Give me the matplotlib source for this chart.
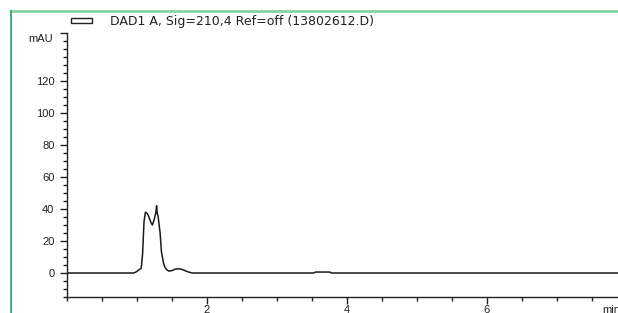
import matplotlib.pyplot as plt
from matplotlib.lines import Line2D
from matplotlib.patches import Rectangle

plt.rcParams['font.family'] = ['Liberation Sans', 'DejaVu Sans']

# chromatogram (min, mAU)
time = [0.0, 0.95, 0.98, 1.03, 1.06, 1.08, 1.10, 1.12, 1.15, 1.17, 1.20, 1.22,
        1.25, 1.27, 1.28, 1.29, 1.30, 1.33, 1.35, 1.38, 1.40, 1.43, 1.46,
        1.50, 1.54, 1.57, 1.62, 1.66, 1.71, 1.76, 1.80,
        3.52, 3.55, 3.75, 3.78, 7.9]
signal = [0.0, 0.0, 0.5, 2.0, 3.0, 12.0, 32.0, 38.0, 37.0, 35.0, 31.5, 30.0,
          34.0, 38.0, 42.0, 37.0, 36.0, 25.0, 13.0, 6.0, 3.5, 1.8, 1.2,
          1.5, 2.3, 2.6, 2.5, 2.0, 1.0, 0.3, 0.0,
          0.0, 0.6, 0.6, 0.0, 0.0]

yticks = [0, 20, 40, 60, 80, 100, 120]
xticks = [2, 4, 6]
legend_text = 'DAD1 A, Sig=210,4 Ref=off (13802612.D)'

W, H = 618, 313
fig = plt.figure(figsize=(W / 100, H / 100), dpi=100)
ax = fig.add_axes([67 / W, (H - 297) / H, 1 - 67 / W, (297 - 33) / H])

ax.plot(time, signal, color='#1a1a1a', lw=1.1)

ax.set_xlim(0, 551 / 70)
ax.set_ylim(-15, 150)
ax.spines['top'].set_visible(False)
ax.spines['right'].set_visible(False)
for s in ('left', 'bottom'):
    ax.spines[s].set_color('#222222')
    ax.spines[s].set_linewidth(1.0)

ax.set_yticks(yticks + [150])
ax.set_yticklabels([str(v) for v in yticks] + [''])
ax.set_yticks(range(-15, 150, 5), minor=True)
ax.set_xticks(xticks)
ax.set_xticklabels([str(v) for v in xticks])
ax.set_xticks([x * 0.5 for x in range(0, 16)], minor=True)
ax.tick_params(which='major', length=5, width=1, color='#222222',
               labelsize=8, labelcolor='#222222')
ax.tick_params(axis='y', which='major', pad=4)
ax.tick_params(axis='x', which='major', pad=1)
ax.tick_params(which='minor', length=3, width=1, color='#222222')

fig.text(53 / W, 1 - 39 / H, 'mAU', ha='right', va='center', fontsize=8, color='#222222')
fig.text(602 / W, 1 - 310 / H, 'min', ha='left', va='center', fontsize=8, color='#222222')

# legend box and title
fig.patches.append(Rectangle((71 / W, 1 - 23 / H), 21 / W, 5 / H, transform=fig.transFigure,
                             fill=False, edgecolor='#222222', lw=1))
fig.text(110 / W, 1 - 21 / H, legend_text, ha='left', va='center', fontsize=9,
         family='DejaVu Sans', color='#222222')

# green frame lines
fig.add_artist(Line2D([11 / W, 1], [1 - 11 / H, 1 - 11 / H], transform=fig.transFigure,
                      color='#7fd6a4', lw=2))
fig.add_artist(Line2D([11 / W, 11 / W], [0, 1 - 11 / H], transform=fig.transFigure,
                      color='#2aa05a', lw=1.2))

fig.savefig('out.png', dpi=100)
